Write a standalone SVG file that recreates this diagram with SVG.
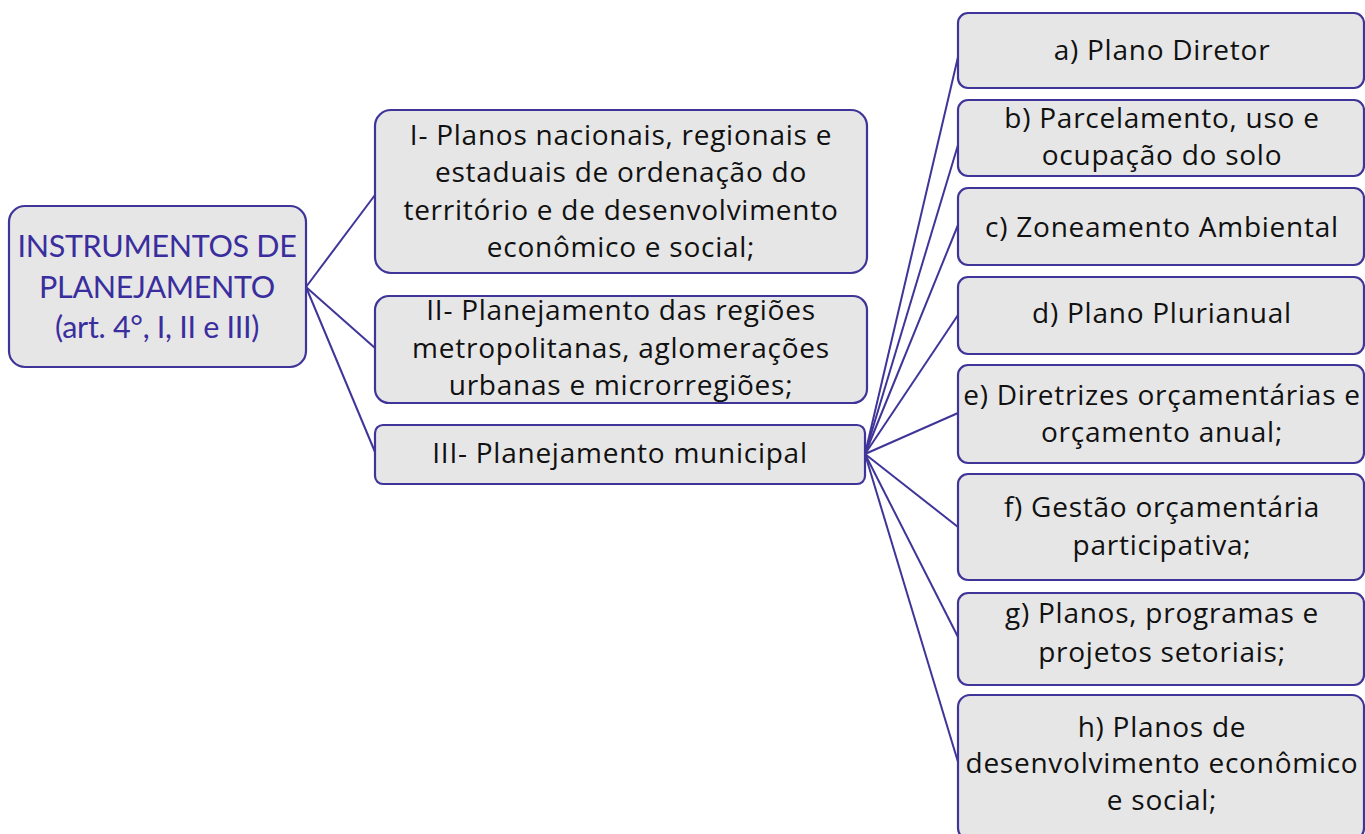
<svg xmlns="http://www.w3.org/2000/svg" width="1365" height="834" viewBox="0 0 1365 834">
<style>
.box{fill:#e6e6e6;stroke:#3f3599;stroke-width:2.2}
.t{font-family:"Open Sans","Liberation Sans",sans-serif;font-size:28px;fill:#111;text-anchor:middle;letter-spacing:0.75px}
.rt{font-family:Lato,"Liberation Sans",sans-serif;font-size:30.5px;fill:#3a2e9e;text-anchor:middle;letter-spacing:-0.3px}
.c{stroke:#3f3599;stroke-width:2;fill:none}
</style>
<rect width="1365" height="834" fill="#fff"/>
<g id="connectors">
<line class="c" x1="306" y1="287" x2="375" y2="195"/>
<line class="c" x1="306" y1="287" x2="375" y2="348"/>
<line class="c" x1="306" y1="287" x2="375" y2="452"/>
<line class="c" x1="865" y1="454" x2="958" y2="57"/>
<line class="c" x1="865" y1="454" x2="958" y2="145"/>
<line class="c" x1="865" y1="454" x2="958" y2="225"/>
<line class="c" x1="865" y1="454" x2="958" y2="315"/>
<line class="c" x1="865" y1="454" x2="958" y2="413"/>
<line class="c" x1="865" y1="454" x2="958" y2="527"/>
<line class="c" x1="865" y1="454" x2="958" y2="637"/>
<line class="c" x1="865" y1="454" x2="958" y2="762"/>
</g>
<g id="root">
<rect class="box" x="9" y="206" width="297" height="161" rx="16"/>
<text class="rt" x="157" y="257">INSTRUMENTOS DE</text>
<text class="rt" x="157" y="298">PLANEJAMENTO</text>
<text class="rt" x="157" y="338">(art. 4°, I, II e III)</text>
</g>
<g id="n1">
<rect class="box" x="375" y="110" width="492" height="163" rx="16"/>
<text class="t" x="621" y="145">I- Planos nacionais, regionais e</text>
<text class="t" x="621" y="182">estaduais de ordenação do</text>
<text class="t" x="621" y="220">território e de desenvolvimento</text>
<text class="t" x="621" y="257">econômico e social;</text>
</g>
<g id="n2">
<rect class="box" x="375" y="296" width="492" height="107" rx="14"/>
<text class="t" x="621" y="320">II- Planejamento das regiões</text>
<text class="t" x="621" y="358">metropolitanas, aglomerações</text>
<text class="t" x="621" y="395">urbanas e microrregiões;</text>
</g>
<g id="n3">
<rect class="box" x="375" y="425" width="490" height="59" rx="8"/>
<text class="t" x="620" y="463">III- Planejamento municipal</text>
</g>
<g id="a">
<rect class="box" x="958" y="13" width="406" height="75" rx="10"/>
<text class="t" x="1162" y="60">a) Plano Diretor</text>
</g>
<g id="b">
<rect class="box" x="958" y="100" width="406" height="76" rx="10"/>
<text class="t" x="1162" y="128">b) Parcelamento, uso e</text>
<text class="t" x="1162" y="165">ocupação do solo</text>
</g>
<g id="c">
<rect class="box" x="958" y="188" width="406" height="77" rx="10"/>
<text class="t" x="1162" y="237">c) Zoneamento Ambiental</text>
</g>
<g id="d">
<rect class="box" x="958" y="277" width="406" height="77" rx="10"/>
<text class="t" x="1162" y="323">d) Plano Plurianual</text>
</g>
<g id="e">
<rect class="box" x="958" y="365" width="406" height="98" rx="10"/>
<text class="t" x="1162" y="405">e) Diretrizes orçamentárias e</text>
<text class="t" x="1162" y="442">orçamento anual;</text>
</g>
<g id="f">
<rect class="box" x="958" y="474" width="406" height="106" rx="10"/>
<text class="t" x="1162" y="517">f) Gestão orçamentária</text>
<text class="t" x="1162" y="555">participativa;</text>
</g>
<g id="g">
<rect class="box" x="958" y="593" width="406" height="92" rx="10"/>
<text class="t" x="1162" y="623">g) Planos, programas e</text>
<text class="t" x="1162" y="662">projetos setoriais;</text>
</g>
<g id="h">
<rect class="box" x="958" y="695" width="406" height="145" rx="12"/>
<text class="t" x="1162" y="737">h) Planos de</text>
<text class="t" x="1162" y="773">desenvolvimento econômico</text>
<text class="t" x="1162" y="810">e social;</text>
</g>
</svg>
